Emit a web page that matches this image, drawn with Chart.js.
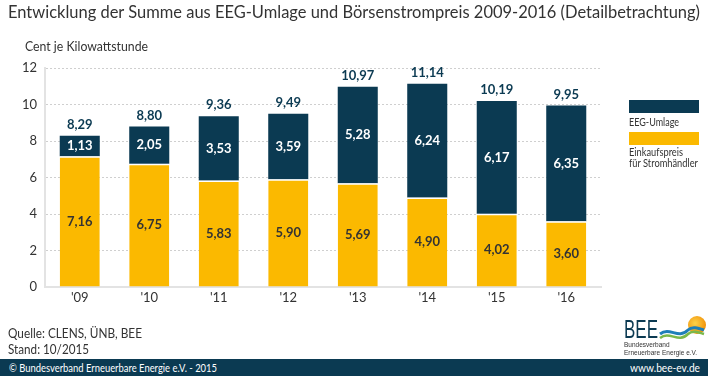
<!DOCTYPE html>
<html lang="de">
<head>
<meta charset="utf-8">
<script src="https://cdn.jsdelivr.net/npm/chart.js@4"></script>
<style>
  body { margin: 0; background: #fff; font-family: Lato, sans-serif; color: #333; }
  #wrap { position: relative; width: 708px; height: 376px; overflow: hidden; }
  #chart { position: absolute; left: 0; top: 0; }
  .txt { position: absolute; white-space: nowrap; transform-origin: 0 0; }
  #title { left: 8px; top: 1px; font-size: 17.5px; }
  #unit { left: 25px; top: 38px; font-size: 13px; }
  .lg-box { position: absolute; left: 629px; width: 70px; height: 13px; }
  .lg-txt { left: 629px; font-size: 10.5px; line-height: 11px; }
  .src { left: 8px; font-size: 13px; line-height: 16px; }
  #band { position: absolute; left: 0; top: 359px; width: 708px; height: 17px; background: #0b3a52; }
  .band-txt { color: #fff; font-size: 11px; top: 361px; }
  #logo { position: absolute; left: 622px; top: 314px; }
</style>
</head>
<body>
<div id="wrap">
  <canvas id="chart" width="708" height="376"></canvas>
  <div class="txt" id="title" data-w="692">Entwicklung der Summe aus EEG-Umlage und Börsenstrompreis 2009-2016 (Detailbetrachtung)</div>
  <div class="txt" id="unit" data-w="123">Cent je Kilowattstunde</div>

  <div class="lg-box" style="top:100px; background:#0b3a52;"></div>
  <div class="txt lg-txt" style="top:117px;" data-w="50">EEG-Umlage</div>
  <div class="lg-box" style="top:132px; background:#fbb900;"></div>
  <div class="txt lg-txt" style="top:147px;" data-w="54">Einkaufspreis</div>
  <div class="txt lg-txt" style="top:158px;" data-w="69">für Stromhändler</div>

  <div class="txt src" style="top:325px;" data-w="134">Quelle: CLENS, ÜNB, BEE</div>
  <div class="txt src" style="top:341px;" data-w="81">Stand: 10/2015</div>

  <svg id="logo" width="84" height="44" viewBox="0 0 84 44">
    <defs>
      <radialGradient id="sun" cx="0.4" cy="0.4" r="0.7">
        <stop offset="0" stop-color="#fdd24a"/>
        <stop offset="1" stop-color="#f08a00"/>
      </radialGradient>
    </defs>
    <text x="2" y="24" font-family="Liberation Sans Narrow, Liberation Sans, sans-serif" font-size="26" fill="#0b3a52" textLength="34" lengthAdjust="spacingAndGlyphs">BEE</text>
    <circle cx="75" cy="11" r="9" fill="url(#sun)"/>
    <path d="M38 20 C48 12, 56 26, 66 16 C70 12, 76 14, 82 16" stroke="#1f7fb8" stroke-width="3" fill="none"/>
    <path d="M38 24 C48 16, 56 30, 66 20 C70 16, 76 18, 82 20" stroke="#7bb84a" stroke-width="2.5" fill="none"/>
    <text x="2" y="33" font-family="Liberation Sans Narrow, sans-serif" font-size="6.5" fill="#333">Bundesverband</text>
    <text x="2" y="41" font-family="Liberation Sans Narrow, sans-serif" font-size="6.5" fill="#333">Erneuerbare Energie e.V.</text>
  </svg>

  <div id="band"></div>
  <div class="txt band-txt" style="left:9px;" data-w="208">© Bundesverband Erneuerbare Energie e.V. - 2015</div>
  <div class="txt band-txt" style="left:630px;" data-w="70">www.bee-ev.de</div>
</div>

<script>
// Data
const years = ["'09", "'10", "'11", "'12", "'13", "'14", "'15", "'16"];
const einkaufspreis = [7.16, 6.75, 5.83, 5.90, 5.69, 4.90, 4.02, 3.60];
const eegUmlage = [1.13, 2.05, 3.53, 3.59, 5.28, 6.24, 6.17, 6.35];
const totals = [8.29, 8.80, 9.36, 9.49, 10.97, 11.14, 10.19, 9.95];
const yTicks = [0, 2, 4, 6, 8, 10, 12];

const NAVY = '#0b3a52';
const YELLOW = '#fbb900';
const FONT = 'Lato, sans-serif';

const fmt = (v) => v.toFixed(2).replace('.', ',');

// squeeze the html texts to the widths of the original (its font is narrower)
document.querySelectorAll('[data-w]').forEach(el => {
    const w = el.getBoundingClientRect().width;
    el.style.transform = 'scaleX(' + (parseFloat(el.dataset.w) / w) + ')';
});

// value labels inside segments and totals above the bars
const valueLabels = {
    id: 'valueLabels',
    afterDatasetsDraw(chart) {
        const c = chart.ctx;
        c.save();
        c.textAlign = 'center';
        c.textBaseline = 'middle';
        c.font = 'bold 13px ' + FONT;
        chart.data.datasets.forEach((ds, di) => {
            const meta = chart.getDatasetMeta(di);
            meta.data.forEach((bar, i) => {
                c.fillStyle = di === 0 ? '#333' : '#fff';
                c.fillText(fmt(ds.data[i]), bar.x, (bar.y + bar.base) / 2);
            });
        });
        const top = chart.getDatasetMeta(1);
        c.fillStyle = NAVY;
        top.data.forEach((bar, i) => {
            c.fillText(fmt(totals[i]), bar.x, bar.y - 11);
        });
        c.restore();
    }
};

new Chart(document.getElementById('chart'), {
    type: 'bar',
    data: {
        labels: years,
        datasets: [
            {
                label: 'Einkaufspreis für Stromhändler',
                data: einkaufspreis,
                backgroundColor: YELLOW,
                borderColor: '#fff',
                borderWidth: { top: 1.5, left: 0, right: 0, bottom: 0 },
                borderSkipped: false
            },
            {
                label: 'EEG-Umlage',
                data: eegUmlage,
                backgroundColor: NAVY,
                borderWidth: 0
            }
        ]
    },
    options: {
        responsive: false,
        animation: false,
        layout: { padding: { left: 0, right: 107, top: 68, bottom: 0 } },
        datasets: { bar: { barPercentage: 0.576, categoryPercentage: 1 } },
        plugins: {
            legend: { display: false },
            tooltip: { enabled: false }
        },
        scales: {
            x: {
                stacked: true,
                grid: { display: false, drawTicks: false, tickLength: 0 },
                border: { color: '#e3e3e3', width: 2 },
                ticks: { color: '#333', font: { family: FONT, size: 13 }, padding: 3 },
                afterFit: (scale) => { scale.height = 89; }
            },
            y: {
                stacked: true,
                min: 0,
                max: 12,
                afterBuildTicks: (scale) => { scale.ticks = yTicks.map(v => ({ value: v })); },
                grid: {
                    color: (ctx) => ctx.tick && ctx.tick.value === 0 ? 'rgba(0,0,0,0)' : '#cfcfcf',
                    drawTicks: false,
                    lineWidth: 1
                },
                border: { color: '#e3e3e3', width: 2, dash: [2, 2] },
                ticks: { color: '#333', font: { family: FONT, size: 13 }, padding: 8 },
                afterFit: (scale) => { scale.width = 45; }
            }
        }
    },
    plugins: [valueLabels]
});
</script>
</body>
</html>
